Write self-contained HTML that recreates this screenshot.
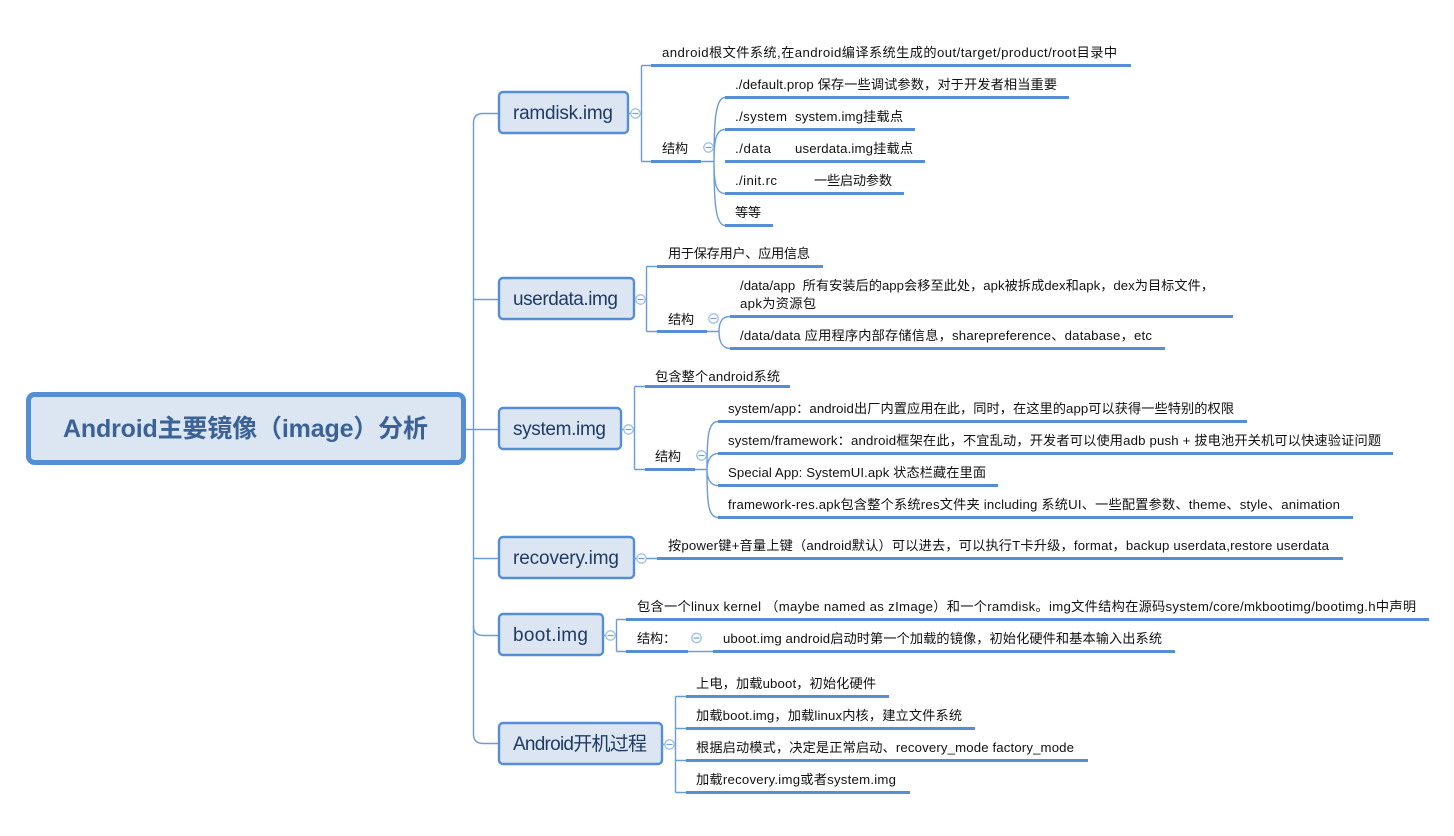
<!DOCTYPE html>
<html lang="zh"><head><meta charset="utf-8"><title>Android主要镜像（image）分析</title>
<style>
html,body{margin:0;padding:0;background:#fff;width:1454px;height:836px;overflow:hidden}
svg{display:block}
text{font-family:"Liberation Sans","Noto Sans CJK SC",sans-serif;font-size:13.2px;fill:#111;white-space:pre}
.t{font-size:19px;fill:#1f3b64}
.r{font-size:25px;font-weight:bold;fill:#3a6296}
.b{fill:#dce6f2;stroke:#558ed5;stroke-width:2.4}
.u{stroke:#558ed5;stroke-width:3;fill:none}
.l{stroke:#6a9bdb;stroke-width:1.4;fill:none}
.c{stroke:#9dc0ea;stroke-width:1.3;fill:#fff}
.m{stroke:#7f9cc4;stroke-width:1.2}
</style></head><body>
<svg width="1454" height="836" viewBox="0 0 1454 836" xmlns="http://www.w3.org/2000/svg" xml:space="preserve">
<!-- trunk -->
<path class="l" d="M499 113.500H483Q473.500 113.500 473.500 123V734Q473.500 743.500 483 743.500H499"/>
<path class="l" d="M466 429.500H499M473.500 299.500H499M473.500 558.500H499M473.500 626Q473.500 635.500 483 635.500H499"/>
<!-- root -->
<rect x="28.500" y="394.500" width="435" height="68" rx="6" fill="#dce6f2" stroke="#558ed5" stroke-width="5"/>
<text class="r" x="63" y="437" textLength="365" lengthAdjust="spacing">Android主要镜像（image）分析</text>

<!-- ramdisk -->
<rect class="b" x="499" y="92" width="129" height="41" rx="4"/>
<text class="t" x="513" y="119" textLength="100">ramdisk.img</text>
<path class="l" d="M628 113.500H631M640 113.500H641.500M641.500 65.500V161.500M641.500 65.500H651M641.500 161.500H651M701 161.500H714"/>
<path class="l" d="M714 161.500C714 125 715 97.500 725 97.500M714 161.500C714 140 716 129.500 725 129.500M714 161.500C714 183 716 193.500 725 193.500M714 161.500C714 198 715 225.500 725 225.500"/>
<path class="u" d="M651 65.500H1131M651 161.500H701M725 97.500H1069M725 129.500H915M725 161.500H925M725 193.500H904M725 225.500H773"/>
<circle class="c" cx="635.500" cy="113.500" r="4.700"/><path class="m" d="M632.500 113.500H638.500"/>
<circle class="c" cx="708.500" cy="147.500" r="4.700"/><path class="m" d="M705.500 147.500H711.500"/>
<text x="662" y="57" textLength="455">android根文件系统,在android编译系统生成的out/target/product/root目录中</text>
<text x="662" y="153" textLength="26">结构</text>
<text x="735" y="89" textLength="322">./default.prop 保存一些调试参数，对于开发者相当重要</text>
<text x="735" y="121" textLength="52">./system</text><text x="795" y="121" textLength="108">system.img挂载点</text>
<text x="735" y="153" textLength="36">./data</text><text x="795" y="153" textLength="118">userdata.img挂载点</text>
<text x="735" y="185" textLength="42">./init.rc</text><text x="814" y="185" textLength="78">一些启动参数</text>
<text x="735" y="217" textLength="26">等等</text>

<!-- userdata -->
<rect class="b" x="499" y="278" width="135" height="41" rx="4"/>
<text class="t" x="513" y="305" textLength="105">userdata.img</text>
<path class="l" d="M634 299.500H636M645 299.500H646.500M646.500 266.500V331.500M646.500 266.500H657M646.500 331.500H657M707 331.500H719"/>
<path class="l" d="M719 331.500C719 322 722 316.500 730 316.500M719 331.500C719 341 722 348.500 730 348.500"/>
<path class="u" d="M657 266.500H823M657 331.500H707M730 316.500H1233M730 348.500H1165"/>
<circle class="c" cx="640.500" cy="299.500" r="4.700"/><path class="m" d="M637.500 299.500H643.500"/>
<circle class="c" cx="713.500" cy="318.500" r="4.700"/><path class="m" d="M710.500 318.500H716.500"/>
<text x="668" y="258" textLength="142">用于保存用户、应用信息</text>
<text x="668" y="324" textLength="26">结构</text>
<text x="740" y="290" textLength="474">/data/app  所有安装后的app会移至此处，apk被拆成dex和apk，dex为目标文件，</text>
<text x="740" y="308" textLength="76">apk为资源包</text>
<text x="740" y="340" textLength="412">/data/data 应用程序内部存储信息，sharepreference、database，etc</text>

<!-- system -->
<rect class="b" x="499" y="408" width="122" height="41" rx="4"/>
<text class="t" x="513" y="435" textLength="93">system.img</text>
<path class="l" d="M621 429.500H624M633 429.500H634.500M634.500 386.500V469.500M634.500 386.500H645M634.500 469.500H645M695 469.500H707"/>
<path class="l" d="M707 469.500C707 437 708 421.500 718 421.500M707 469.500C707 462 710 453.500 718 453.500M707 469.500C707 478 710 485.500 718 485.500M707 469.500C707 502 708 517.500 718 517.500"/>
<path class="u" d="M645 386.500H790M645 469.500H695M718 421.500H1247M718 453.500H1393M718 485.500H998M718 517.500H1353"/>
<circle class="c" cx="628.500" cy="429.500" r="4.700"/><path class="m" d="M625.500 429.500H631.500"/>
<circle class="c" cx="701.500" cy="455.500" r="4.700"/><path class="m" d="M698.500 455.500H704.500"/>
<text x="655" y="381" textLength="125">包含整个android系统</text>
<text x="655" y="461" textLength="26">结构</text>
<text x="728" y="413" textLength="506">system/app：android出厂内置应用在此，同时，在这里的app可以获得一些特别的权限</text>
<text x="728" y="445" textLength="653">system/framework：android框架在此，不宜乱动，开发者可以使用adb push + 拔电池开关机可以快速验证问题</text>
<text x="728" y="477" textLength="258">Special App: SystemUI.apk 状态栏藏在里面</text>
<text x="728" y="509" textLength="612">framework-res.apk包含整个系统res文件夹 including 系统UI、一些配置参数、theme、style、animation</text>

<!-- recovery -->
<rect class="b" x="499" y="537" width="135" height="41" rx="4"/>
<text class="t" x="513" y="564" textLength="106">recovery.img</text>
<path class="l" d="M634 558.500H637M646 558.500H657"/>
<path class="u" d="M657 558.500H1343"/>
<circle class="c" cx="641.500" cy="558.500" r="4.700"/><path class="m" d="M638.500 558.500H644.500"/>
<text x="668" y="550" textLength="661">按power键+音量上键（android默认）可以进去，可以执行T卡升级，format，backup userdata,restore userdata</text>

<!-- boot -->
<rect class="b" x="499" y="614" width="104" height="41" rx="4"/>
<text class="t" x="513" y="641" textLength="75">boot.img</text>
<path class="l" d="M603 635.500H606M615 635.500H616.500M616.500 619.500V651.500M616.500 619.500H626M616.500 651.500H626M688 651.500H713"/>
<path class="u" d="M626 619.500H1429M626 651.500H688M713 651.500H1175"/>
<circle class="c" cx="610.500" cy="635.500" r="4.700"/><path class="m" d="M607.500 635.500H613.500"/>
<circle class="c" cx="696.500" cy="638" r="4.700"/><path class="m" d="M693.500 638H699.500"/>
<text x="637" y="611" textLength="779">包含一个linux kernel （maybe named as zImage）和一个ramdisk。img文件结构在源码system/core/mkbootimg/bootimg.h中声明</text>
<text x="637" y="643" textLength="26">结构</text><text x="663" y="643">：</text>
<text x="723" y="643" textLength="439">uboot.img android启动时第一个加载的镜像，初始化硬件和基本输入出系统</text>

<!-- boot process -->
<rect class="b" x="499" y="723" width="163" height="41" rx="4"/>
<text class="t" x="513" y="750" textLength="134">Android开机过程</text>
<path class="l" d="M662 744.500H665M674 744.500H675.500M675.500 696.500V792.500M675.500 696.500H686M675.500 728.500H686M675.500 760.500H686M675.500 792.500H686"/>
<path class="u" d="M686 696.500H889M686 728.500H975M686 760.500H1088M686 792.500H910"/>
<circle class="c" cx="669.500" cy="744.500" r="4.700"/><path class="m" d="M666.500 744.500H672.500"/>
<text x="696" y="688" textLength="180">上电，加载uboot，初始化硬件</text>
<text x="696" y="720" textLength="266">加载boot.img，加载linux内核，建立文件系统</text>
<text x="696" y="752" textLength="378">根据启动模式，决定是正常启动、recovery_mode factory_mode</text>
<text x="696" y="784" textLength="200">加载recovery.img或者system.img</text>
</svg>
</body></html>
